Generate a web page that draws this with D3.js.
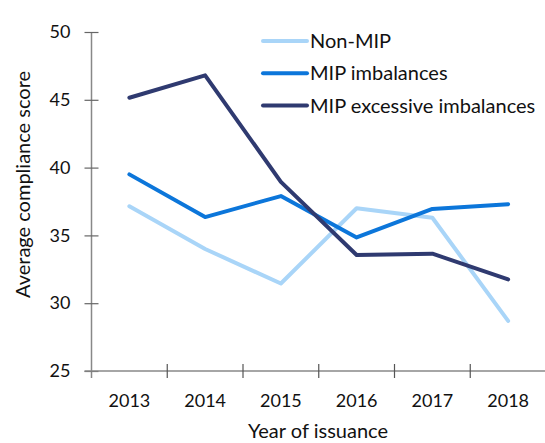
<!DOCTYPE html>
<html><head><meta charset="utf-8">
<script src="https://cdn.jsdelivr.net/npm/d3@7"></script>
<style>body{margin:0;background:#fff}svg{display:block}text{font-family:Lato,"Open Sans",sans-serif;fill:#111}</style>
</head><body><svg id="c" width="545" height="443"></svg>
<script>
const years = ["2013","2014","2015","2016","2017","2018"];
const nonMIP = [37.15, 34.0, 31.45, 37.0, 36.3, 28.7];
const mipImbalances = [39.5, 36.35, 37.9, 34.85, 36.95, 37.3];
const mipExcessive = [45.15, 46.8, 38.95, 33.55, 33.65, 31.75];
const seriesNames = ["Non-MIP", "MIP imbalances", "MIP excessive imbalances"];
const seriesColors = ["#a9d5f8", "#0c76da", "#2f3a70"];
const yTicks = [25, 30, 35, 40, 45, 50];

const series = [nonMIP, mipImbalances, mipExcessive];
const svg = d3.select("#c");
const x = d3.scaleBand().domain(years).range([91.5, 546]);
const y = d3.scaleLinear().domain([25, 50]).range([371, 32]);

// y axis
const yAxis = svg.append("g").attr("transform", "translate(91.5,0)")
  .call(d3.axisLeft(y).tickValues(yTicks).tickSize(7).tickPadding(14));
yAxis.select(".domain").attr("d", "M0,32V378").attr("stroke", "#888").attr("stroke-width", 1.5);
yAxis.selectAll(".tick line").attr("x2", 7).attr("x1", -7).attr("stroke", "#666").attr("stroke-width", 1.2);
yAxis.selectAll(".tick text").attr("font-size", 18).attr("fill", "#111");

// x axis
const xAxis = svg.append("g").attr("transform", "translate(0,371)")
  .call(d3.axisBottom(x).tickSize(0).tickPadding(23));
xAxis.select(".domain").attr("d", "M84.5,0H546").attr("stroke", "#888").attr("stroke-width", 1.5);
xAxis.selectAll(".tick text").attr("font-size", 18).attr("fill", "#111");
xAxis.selectAll(".bt").data(years.slice(1)).enter().append("line")
  .attr("x1", d => x(d)).attr("x2", d => x(d)).attr("y1", -7).attr("y2", 7)
  .attr("stroke", "#555").attr("stroke-width", 1.2);
svg.selectAll(".domain").attr("fill", "none");

// axis titles
svg.append("text").attr("x", 318).attr("y", 438).attr("text-anchor", "middle")
  .attr("font-size", 20).text("Year of issuance");
svg.append("text").attr("transform", "translate(30,184.5) rotate(-90)").attr("text-anchor", "middle")
  .attr("font-size", 20).text("Average compliance score");

// lines
const line = d3.line().x((d, i) => x(years[i]) + x.bandwidth() / 2).y(d => y(d));
series.forEach((s, k) => {
  svg.append("path").datum(s).attr("d", line).attr("fill", "none")
    .attr("stroke", seriesColors[k]).attr("stroke-width", 4)
    .attr("stroke-linejoin", "round").attr("stroke-linecap", "round");
});

// legend
seriesNames.forEach((n, k) => {
  const ly = 41 + k * 32.3;
  svg.append("line").attr("x1", 263).attr("x2", 307).attr("y1", ly).attr("y2", ly)
    .attr("stroke", seriesColors[k]).attr("stroke-width", 4).attr("stroke-linecap", "round");
  svg.append("text").attr("x", 310).attr("y", ly).attr("dy", "0.35em")
    .attr("font-size", 20).text(n);
});
</script></body></html>
